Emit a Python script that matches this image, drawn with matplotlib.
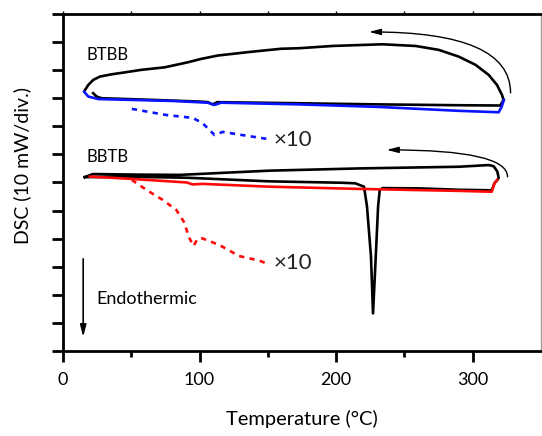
import numpy as np
import matplotlib.pyplot as plt

plt.rcParams['font.family'] = ['Lato', 'DejaVu Sans']

# BTBB: black = 1st heating + cooling, blue = 2nd heating, blue dashed = 2nd heating x10
btbb_black_T = [22.1, 24.6, 28.2, 60, 100, 106, 109.5, 113, 173, 231, 290, 320.2, 322.6,
                321.4, 317.8, 311.7, 302, 289.8, 275.2, 258.2, 233.8, 197.3, 173, 159.6, 135.3,
                113.4, 101.2, 91.5, 74.5, 57.4, 45.3, 35.5, 27, 22.1, 18.5, 16.1]
btbb_black_y = [9.18, 9.06, 9.00, 8.95, 8.88, 8.86, 8.78, 8.86, 8.82, 8.78, 8.75, 8.74, 8.94,
                9.12, 9.47, 9.83, 10.19, 10.48, 10.72, 10.86, 10.92, 10.86, 10.78, 10.76, 10.64,
                10.52, 10.40, 10.28, 10.10, 10.01, 9.92, 9.85, 9.77, 9.65, 9.47, 9.29]
btbb_blue_T = [15.5, 18.5, 25.8, 81.8, 106, 111, 115.8, 173, 231, 290, 319, 321.2, 322.8]
btbb_blue_y = [9.23, 9.06, 8.97, 8.90, 8.84, 8.76, 8.84, 8.78, 8.69, 8.55, 8.50, 8.70, 8.94]
btbb_x10_T = [50.4, 75.9, 94.9, 102, 111, 117, 131, 149.6]
btbb_x10_y = [8.62, 8.40, 8.30, 8.12, 7.69, 7.80, 7.69, 7.55]

# BBTB: black = 1st heating (melting peak) + cooling, red = 2nd heating, red dashed = x10
bbtb_black_T = [16, 49, 90, 151, 204, 214, 220.4, 222.6, 225.5, 227, 229, 230.7, 231.9, 234,
                260.6, 290, 313.9, 316, 318, 319, 318, 315.3, 311.7, 290, 217, 151, 85.4, 54, 21.9, 16]
bbtb_black_y = [6.19, 6.20, 6.17, 6.04, 5.99, 5.97, 5.85, 5.14, 3.36, 1.34, 3.36, 5.14, 5.73, 5.80,
                5.79, 5.74, 5.72, 5.98, 6.09, 6.16, 6.39, 6.58, 6.62, 6.56, 6.50, 6.42, 6.27, 6.28, 6.30, 6.19]
bbtb_red_T = [19.7, 49, 90.5, 95, 102, 151, 217, 290, 313.9, 316, 318]
bbtb_red_y = [6.21, 6.13, 6.00, 5.93, 5.95, 5.85, 5.77, 5.70, 5.67, 5.98, 6.09]
bbtb_x10_T = [50.4, 61.3, 73, 83, 89, 92, 95.6, 98.5, 102, 114.6, 129, 143.8, 149.6]
bbtb_x10_y = [6.09, 5.73, 5.38, 5.02, 4.56, 4.07, 3.74, 3.99, 4.01, 3.77, 3.38, 3.22, 3.10]

fig = plt.figure(figsize=(5.42, 4.36), dpi=100)
ax = fig.add_axes([0.1162, 0.195, 0.882, 0.773])

lw = 1.9
ax.plot(btbb_black_T, btbb_black_y, color='black', lw=lw, solid_joinstyle='round')
ax.plot(btbb_blue_T, btbb_blue_y, color='#0a14ff', lw=lw, solid_joinstyle='round')
ax.plot(btbb_x10_T, btbb_x10_y, color='#0a14ff', lw=lw, ls=(0, (2, 2)))
ax.plot(bbtb_black_T, bbtb_black_y, color='black', lw=lw, solid_joinstyle='round')
ax.plot(bbtb_red_T, bbtb_red_y, color='#ff0a0a', lw=lw, solid_joinstyle='round')
ax.plot(bbtb_x10_T, bbtb_x10_y, color='#ff0a0a', lw=lw, ls=(0, (2, 2)))

# cooling-direction arrows
arrow_kw = dict(arrowstyle='-|>,head_length=0.7,head_width=0.18', color='black', lw=1.0,
                shrinkA=0, shrinkB=0)
ax.annotate('', xy=(224, 11.36), xytext=(327.7, 9.19),
            arrowprops=dict(connectionstyle='angle3,angleA=90,angleB=0', **arrow_kw))
ax.annotate('', xy=(237, 7.16), xytext=(325.5, 6.2),
            arrowprops=dict(connectionstyle='angle3,angleA=90,angleB=0', **arrow_kw))
ax.annotate('', xy=(14.8, 0.5), xytext=(14.8, 3.28),
            arrowprops=dict(arrowstyle='-|>,head_length=0.7,head_width=0.18', color='black',
                            lw=1.2, shrinkA=0, shrinkB=0))

ax.text(17.5, 10.54, 'BTBB', fontsize=12, va='center', ha='left')
ax.text(17.5, 6.89, 'BBTB', fontsize=12, va='center', ha='left')
ax.text(154, 7.52, '×10', fontsize=16, va='center', ha='left', color='#222222')
ax.text(154, 3.12, '×10', fontsize=16, va='center', ha='left', color='#222222')
ax.text(24.8, 1.85, 'Endothermic', fontsize=13, va='center', ha='left')

ax.set_xlim(0, 350)
ax.set_ylim(0, 12)
ax.set_xticks([0, 100, 200, 300])
ax.set_xticks([50, 150, 250], minor=True)
ax.set_yticks(np.arange(0, 13))
ax.set_yticklabels([])
ax.tick_params(axis='x', which='both', top=True, labeltop=False)
ax.tick_params(axis='x', which='major', direction='out', length=8, width=2, labelsize=13, pad=7)
ax.tick_params(axis='x', which='minor', direction='out', length=4, width=2)
ax.tick_params(axis='y', which='major', direction='out', length=8, width=2, right=True, labelright=False)
for t in ax.xaxis.get_major_ticks() + ax.xaxis.get_minor_ticks():
    t.tick2line.set_markersize(2)
    t.tick2line.set_markeredgewidth(1)
for t in ax.yaxis.get_major_ticks():
    t.tick2line.set_markersize(2)
    t.tick2line.set_markeredgewidth(1)
    t.tick2line.set_color('#a0a0a0')

for s in ['left', 'bottom', 'top']:
    ax.spines[s].set_linewidth(2)
ax.spines['right'].set_color('#a0a0a0')
ax.spines['right'].set_linewidth(1)

ax.set_xlabel('Temperature (°C)', fontsize=14.5, labelpad=16)
ax.set_ylabel('DSC (10 mW/div.)', fontsize=14)
ax.yaxis.set_label_coords(-0.067, 0.55)

fig.savefig('out.png', dpi=100)
